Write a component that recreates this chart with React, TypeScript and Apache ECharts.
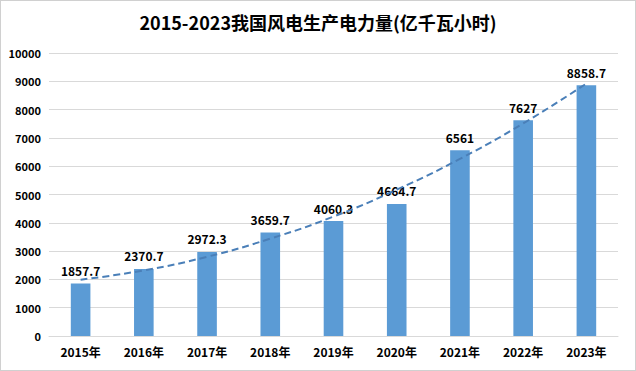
import React, { useEffect, useRef } from "react";
import * as echarts from "echarts";

const categories = ["2015年", "2016年", "2017年", "2018年", "2019年", "2020年", "2021年", "2022年", "2023年"];
const values = [1857.7, 2370.7, 2972.3, 3659.7, 4060.3, 4664.7, 6561, 7627, 8858.7];
// dashed trend line at each category
const trendValues = [1990, 2320, 2800, 3440, 4220, 5170, 6260, 7510, 8920];
const titleText = "2015-2023我国风电生产电力量(亿千瓦小时)";

const FONT = "'Noto Sans CJK SC', 'Noto Sans', sans-serif";

export default function App() {
  const ref = useRef<HTMLDivElement>(null);
  useEffect(() => {
    if (!ref.current) return;
    const chart = echarts.init(ref.current, undefined, { renderer: "svg" });
    chart.setOption({
      animation: false,
      backgroundColor: "#ffffff",
      title: {
        text: titleText,
        left: "center",
        top: 7,
        textStyle: { fontFamily: FONT, fontSize: 18, fontWeight: "bold", color: "#000" },
      },
      grid: { left: 48, right: 17, top: 52, bottom: 34, containLabel: false },
      xAxis: {
        type: "category",
        data: categories,
        axisLine: { show: true, lineStyle: { color: "#d9d9d9" } },
        axisTick: { show: false },
        axisLabel: { color: "#000", fontFamily: FONT, fontSize: 12, fontWeight: "bold", margin: 9 },
      },
      yAxis: {
        type: "value",
        min: 0,
        max: 10000,
        interval: 1000,
        axisLine: { show: false },
        axisTick: { show: false },
        axisLabel: {
          color: "#000",
          fontFamily: FONT,
          fontSize: 11,
          fontWeight: "bold",
          margin: 8,
          formatter: (v: number) => String(v),
        },
        splitLine: { lineStyle: { color: "#d9d9d9" } },
      },
      series: [
        {
          type: "bar",
          data: values,
          barWidth: "31%",
          itemStyle: { color: "#5b9bd5" },
          label: {
            show: true,
            position: "top",
            distance: 7,
            color: "#000",
            fontFamily: FONT,
            fontSize: 12,
            fontWeight: "bold",
          },
        },
        {
          type: "line",
          data: trendValues,
          smooth: true,
          symbol: "none",
          lineStyle: { color: "#4a7fb8", width: 2, type: [7, 4] },
          z: 5,
        },
      ],
    });
    return () => chart.dispose();
  }, []);
  return (
    <div
      style={{
        position: "absolute",
        left: 0,
        top: 0,
        width: 636,
        height: 371,
        boxSizing: "border-box",
        border: "1px solid #d0d0d0",
        background: "#fff",
      }}
    >
      <div ref={ref} style={{ width: 634, height: 369 }} />
    </div>
  );
}
